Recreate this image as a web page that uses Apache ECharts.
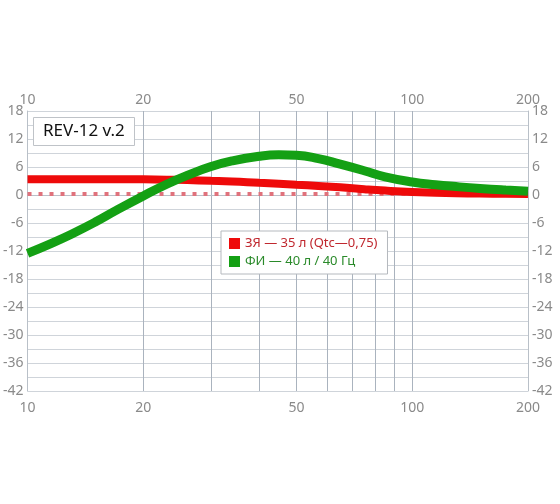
<!DOCTYPE html>
<html>
<head>
<meta charset="utf-8">
<script src="https://cdn.jsdelivr.net/npm/echarts@6/dist/echarts.min.js"></script>
<style>
  html, body { margin: 0; padding: 0; background: #fff; }
  #chart { width: 560px; height: 504px; }
</style>
</head>
<body>
<div id="chart"></div>
<script>
var freqs = [10, 11.5, 13, 15, 17, 20, 23, 26, 30, 34, 40, 45, 50, 57, 65, 75, 85, 100, 115, 130, 150, 175, 200];
var sealed = [3.4, 3.4, 3.4, 3.4, 3.38, 3.35, 3.28, 3.2, 3.05, 2.9, 2.6, 2.4, 2.2, 1.95, 1.65, 1.25, 0.95, 0.65, 0.5, 0.4, 0.3, 0.25, 0.2];
var ported = [-12.5, -10.4, -8.4, -5.8, -3.3, -0.2, 2.3, 4.2, 6.1, 7.3, 8.3, 8.6, 8.5, 7.8, 6.6, 5.2, 3.9, 2.8, 2.2, 1.8, 1.4, 1.05, 0.8];
var gridFreqs = [10, 20, 30, 40, 50, 60, 70, 80, 90, 100, 200];
var freqLabels = [10, 20, 50, 100, 200];
var refLevel = 0.3;
var names = ['ЗЯ — 35 л (Qtc—0,75)', 'ФИ — 40 л / 40 Гц'];

function pairs(ys) {
  return freqs.map(function(f, i) { return [f, ys[i]]; });
}

var chart = echarts.init(document.getElementById('chart'), null, { renderer: 'canvas' });
var font = '"Noto Sans", "Open Sans", sans-serif';

function xAxis(pos, showGrid, margin) {
  return {
    type: 'log',
    logBase: 10,
    position: pos,
    min: 10,
    max: 200,
    axisLine: { show: true, lineStyle: { color: '#b9c0c8', width: 1 } },
    axisTick: { show: false, customValues: gridFreqs },
    axisLabel: { customValues: freqLabels, color: '#8a8a8a', fontSize: 14, fontFamily: font, margin: margin },
    splitLine: { show: showGrid, lineStyle: { color: '#aab3be', width: 1 } }
  };
}

function yAxis(pos, showGrid) {
  return {
    type: 'value',
    position: pos,
    min: -42,
    max: 18,
    interval: 6,
    axisLine: { show: true, lineStyle: { color: '#b9c0c8', width: 1 } },
    axisTick: { show: false },
    axisLabel: { color: '#8a8a8a', fontSize: 14, fontFamily: font, margin: 4 },
    splitLine: { show: showGrid, lineStyle: { color: '#cfd4da', width: 1 } },
    minorTick: { show: false, splitNumber: 2 },
    minorSplitLine: { show: showGrid, lineStyle: { color: '#cfd4da', width: 1 } }
  };
}

chart.setOption({
  animation: false,
  backgroundColor: '#fff',
  title: {
    text: 'REV-12 v.2',
    left: 33,
    top: 117,
    padding: [6, 10, 6, 10],
    borderColor: '#bfc3c8',
    borderWidth: 1,
    backgroundColor: '#fff',
    textStyle: { color: '#111', fontSize: 17, fontWeight: 'normal', fontFamily: font }
  },
  legend: {
    orient: 'vertical',
    left: 221,
    top: 231,
    padding: [6, 10, 6, 8],
    itemGap: 5,
    itemWidth: 11,
    itemHeight: 11,
    icon: 'rect',
    borderColor: '#b5b9be',
    borderWidth: 1,
    backgroundColor: '#fff',
    textStyle: { fontSize: 13, fontFamily: font },
    data: [
      { name: names[0], textStyle: { color: '#c0282f' } },
      { name: names[1], textStyle: { color: '#2a8a2a' } }
    ]
  },
  grid: { left: 27, right: 32, top: 111, bottom: 113, containLabel: false },
  xAxis: [xAxis('bottom', true, 10), xAxis('top', false, 4)],
  yAxis: [yAxis('left', true), yAxis('right', false)],
  series: [
    {
      name: names[0],
      type: 'line',
      smooth: 0.5,
      showSymbol: false,
      data: pairs(sealed),
      lineStyle: { color: '#ee0a0a', width: 8 },
      itemStyle: { color: '#ee0a0a' },
      z: 3,
      markLine: {
        silent: true,
        symbol: 'none',
        label: { show: false },
        lineStyle: { color: '#e0727c', width: 4, type: [4, 7], opacity: 1 },
        data: [{ yAxis: refLevel }],
        z: 2
      }
    },
    {
      name: names[1],
      type: 'line',
      smooth: 0.5,
      showSymbol: false,
      data: pairs(ported),
      lineStyle: { color: '#14a014', width: 9 },
      itemStyle: { color: '#14a014' },
      z: 4
    }
  ]
});
</script>
</body>
</html>
